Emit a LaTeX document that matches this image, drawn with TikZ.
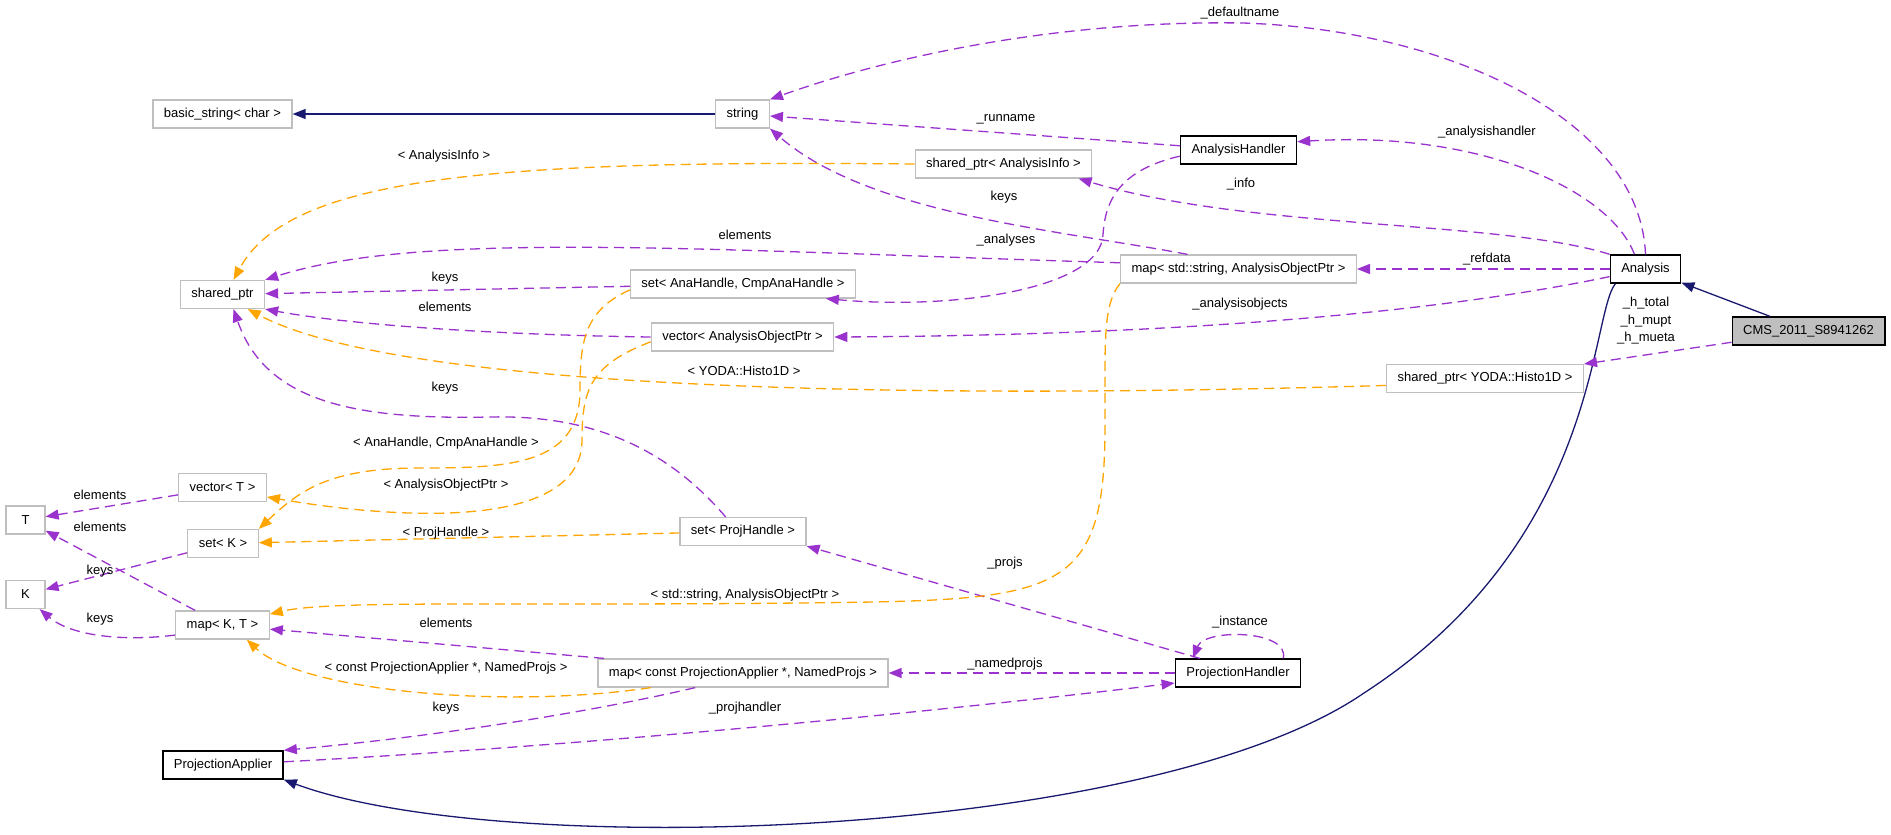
\documentclass[tikz,border=0pt]{standalone}
\usepackage{fontspec}
\setmainfont{Liberation Sans}
\usetikzlibrary{arrows.meta}
\definecolor{boxgray}{HTML}{BFBFBF}
\definecolor{usepurple}{HTML}{9A32CD}
\definecolor{tmplorange}{HTML}{FFA500}
\definecolor{inhnavy}{HTML}{191970}

\begin{document}
\begin{tikzpicture}[x=1pt,y=-1pt,
    cls/.style={draw=boxgray,line width=1.2pt,rectangle,minimum height=28pt,inner xsep=11pt,inner ysep=0pt,font=\fontsize{13}{15}\selectfont},
    doc/.style={cls,draw=black,line width=1.4pt},
    self/.style={doc,fill=boxgray},
    lbl/.style={inner sep=0pt,align=center,font=\fontsize{13}{17.5}\selectfont},
    usage/.style={color=usepurple,line width=1.3pt,dash pattern=on 10pt off 6pt,-{Triangle[length=13pt,width=10pt]}},
    tmpl/.style={usage,color=tmplorange},
    inh/.style={color=inhnavy,line width=1.3pt,-{Triangle[length=13pt,width=10pt]}}]
    \useasboundingbox (0,0) rectangle (1891,835);

    \node[cls] (basic) at (222.5,114) {basic\_string< char >};
    \node[cls] (str) at (742.5,114) {string};
    \node[doc] (ahandler) at (1238.5,150) {AnalysisHandler};
    \node[cls] (ainfo) at (1003.5,164) {shared\_ptr< AnalysisInfo >};
    \node[cls] (sptr) at (222.5,294.5) {shared\_ptr};
    \node[cls] (setana) at (743,284) {set< AnaHandle, CmpAnaHandle >};
    \node[cls] (mapstr) at (1238.5,269) {map< std::string, AnalysisObjectPtr >};
    \node[doc] (analysis) at (1645.5,269) {Analysis};
    \node[self] (cms) at (1808.5,331) {CMS\_2011\_S8941262};
    \node[cls] (vecaop) at (742.5,337) {vector< AnalysisObjectPtr >};
    \node[cls] (histo) at (1485,378.5) {shared\_ptr< YODA::Histo1D >};
    \node[cls] (vect) at (222.5,487.5) {vector< T >};
    \node[cls,minimum width=39pt] (T) at (25.5,520) {T};
    \node[cls] (setk) at (223,543.5) {set< K >};
    \node[cls] (setproj) at (743,531.5) {set< ProjHandle >};
    \node[cls,minimum width=39pt] (K) at (25.5,594.5) {K};
    \node[cls] (mapkt) at (222.5,625) {map< K, T >};
    \node[cls] (mappa) at (743,673) {map< const ProjectionApplier *, NamedProjs >};
    \node[doc] (phandler) at (1238,673) {ProjectionHandler};
    \node[doc] (papplier) at (223,765) {ProjectionApplier};

    \draw[inh] (str) -- (basic);
    \draw[inh] (cms) -- (analysis);
    \draw[inh] (analysis.206) .. controls (1590,315) and (1600,540) .. (1364,693)
        .. controls (1150,840) and (500,860) .. (papplier.south east);

    \draw[usage] (analysis.north) .. controls (1640,120) and (1450,30) .. (1243,23)
        .. controls (1050,20) and (880,60) .. (str.north east);
    \draw[usage] (ahandler) -- (str);
    \draw[usage] (analysis.127) .. controls (1610,190) and (1480,130) .. (ahandler.8);
    \draw[usage] (analysis.north west) .. controls (1500,220) and (1250,230) .. (ainfo.-11.5);
    \draw[usage] (mapstr.164.5) .. controls (1060,230) and (870,215) .. (str.south east);
    \draw[usage] (mapstr.177) .. controls (700,250) and (420,230) .. (sptr.north east);
    \draw[usage] (setana) -- (sptr);
    \draw[usage] (vecaop.west) .. controls (500,335) and (350,325) .. (sptr.south east);
    \draw[usage] (ahandler.186) .. controls (1120,170) and (1105,200) .. (1103,235)
        .. controls (1100,290) and (950,310) .. (setana.-10);
    \draw[usage] (analysis) -- (mapstr);
    \draw[usage] (analysis.192) .. controls (1450,310) and (1200,335) .. (vecaop.east);
    \draw[usage] (cms) -- (histo);
    \draw[usage] (setproj.140) .. controls (660,440) and (580,415) .. (490,417)
        .. controls (350,420) and (265,400) .. (sptr.-53);
    \draw[usage] (vect) -- (T);
    \draw[usage] (mapkt) -- (T);
    \draw[usage] (setk) -- (K);
    \draw[usage] (mapkt.192) .. controls (120,642) and (70,635) .. (K.-46);
    \draw[usage] (phandler.159) -- (setproj.south east);
    \draw[usage] (phandler.18) .. controls (1290,630) and (1205,628) .. (phandler.162);
    \draw[usage] (phandler) -- (mappa);
    \draw[usage] (papplier.3) .. controls (600,745) and (950,710) .. (phandler.189);
    \draw[usage] (mappa.197) .. controls (600,710) and (450,735) .. (papplier.north east);
    \draw[usage] (mappa.174) -- (mapkt.-5);

    \draw[tmpl] (ainfo.west) .. controls (500,160) and (290,175) .. (sptr.53);
    \draw[tmpl] (histo.184) .. controls (900,400) and (400,390) .. (sptr.-30);
    \draw[tmpl] (vecaop.183) .. controls (590,365) and (582,390) .. (582,440)
        .. controls (582,530) and (400,520) .. (vect.-12);
    \draw[tmpl] (setana.183) .. controls (585,310) and (580,340) .. (580,390)
        .. controls (580,465) and (510,468) .. (420,468)
        .. controls (330,468) and (300,490) .. (setk.north east);
    \draw[tmpl] (setproj) -- (setk);
    \draw[tmpl] (mapstr.south west) .. controls (1103,305) and (1105,340) .. (1105,420)
        .. controls (1106,600) and (1060,600) .. (800,603)
        .. controls (500,606) and (330,600) .. (mapkt.13);
    \draw[tmpl] (mappa.189) .. controls (500,710) and (300,690) .. (mapkt.-31);

    \node[lbl] (ldefault) at (1240,13) {\_defaultname};
    \node[lbl] (lrunname) at (1006,119) {\_runname};
    \node[lbl] (lahandler) at (1487,132) {\_analysishandler};
    \node[lbl] (linfo) at (1241,184) {\_info};
    \node[lbl] (lainfo) at (444,156) {< AnalysisInfo >};
    \node[lbl] (lkeysstr) at (1004,197) {keys};
    \node[lbl] (lelemmap) at (745,235) {elements};
    \node[lbl] (lanalyses) at (1006,240) {\_analyses};
    \node[lbl] (lkeysset) at (445,278) {keys};
    \node[lbl] (lrefdata) at (1487,259) {\_refdata};
    \node[lbl] (lelemvec) at (445,307) {elements};
    \node[lbl] (laobjects) at (1240,304) {\_analysisobjects};
    \node[lbl] (lhisto) at (1646,321) {\_h\_total\\\_h\_mupt\\\_h\_mueta};
    \node[lbl] (lyoda) at (744,371) {< YODA::Histo1D >};
    \node[lbl] (lkeysproj) at (445,388) {keys};
    \node[lbl] (lanahandle) at (446,443) {< AnaHandle, CmpAnaHandle >};
    \node[lbl] (laop) at (446,485) {< AnalysisObjectPtr >};
    \node[lbl] (lelemvt) at (100,495) {elements};
    \node[lbl] (lelemmt) at (100,527) {elements};
    \node[lbl] (lprojhandle) at (446,533) {< ProjHandle >};
    \node[lbl] (lprojs) at (1005,563) {\_projs};
    \node[lbl] (lkeyssk) at (100,571) {keys};
    \node[lbl] (lstdstring) at (745,595) {< std::string, AnalysisObjectPtr >};
    \node[lbl] (lkeysmk) at (100,619) {keys};
    \node[lbl] (lelemmpa) at (446,623) {elements};
    \node[lbl] (linstance) at (1240,622) {\_instance};
    \node[lbl] (lnamedprojs) at (1005,664) {\_namedprojs};
    \node[lbl] (lconstpa) at (446,668) {< const ProjectionApplier *, NamedProjs >};
    \node[lbl] (lkeyspa) at (446,708) {keys};
    \node[lbl] (lprojhandler) at (745,708) {\_projhandler};
\end{tikzpicture}
\end{document}
